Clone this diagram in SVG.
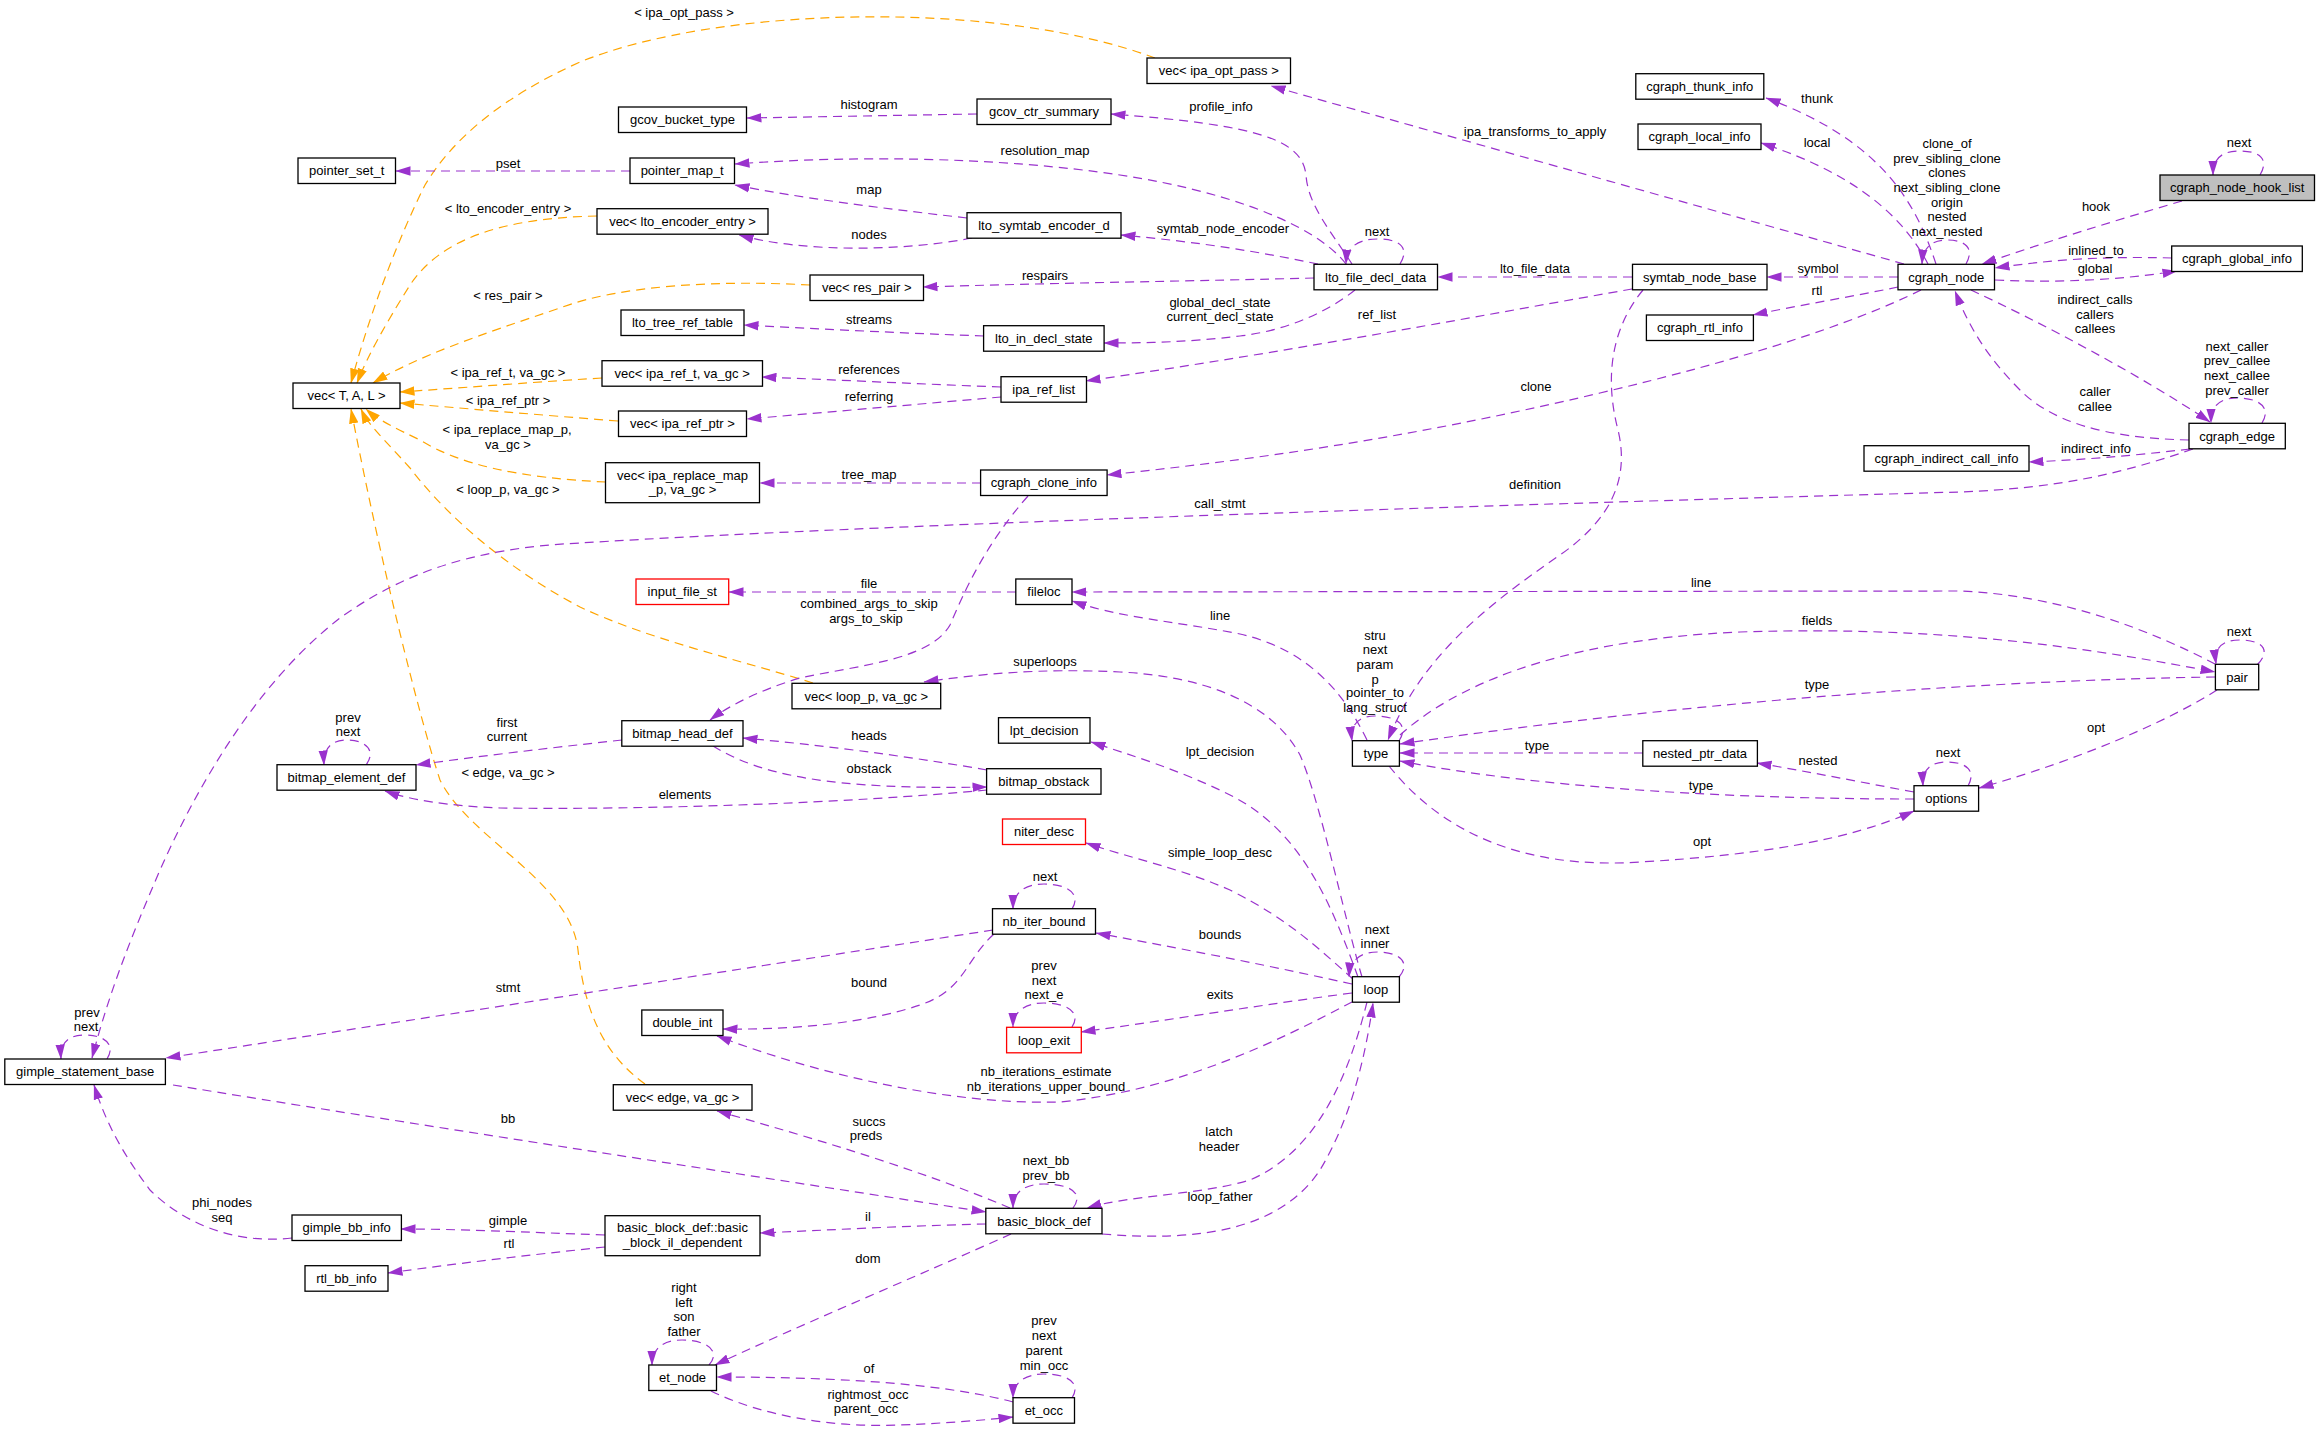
<svg xmlns="http://www.w3.org/2000/svg" width="2320" height="1430" viewBox="0 0 2320 1430">
<style>
.n rect{fill:#fff;stroke:#000;stroke-width:1.3}
.n.red rect{stroke:#ff0000}
.n.main rect{fill:#bfbfbf}
text{font-family:"Liberation Sans",Arial,Helvetica,sans-serif;font-size:13px;text-anchor:middle;fill:#000}
#edges path{fill:none;stroke:#9a32cd;stroke-width:1.2;stroke-dasharray:9,6;marker-end:url(#ap)}
#edges path.o{stroke:#ffa500;marker-end:url(#ao)}
</style>
<defs>
<marker id="ap" viewBox="0 0 15 10" refX="14.5" refY="5" markerWidth="15" markerHeight="10" markerUnits="userSpaceOnUse" orient="auto"><path d="M0,0.3 L15,5 L0,9.7 z" fill="#9a32cd"/></marker>
<marker id="ao" viewBox="0 0 15 10" refX="14.5" refY="5" markerWidth="15" markerHeight="10" markerUnits="userSpaceOnUse" orient="auto"><path d="M0,0.3 L15,5 L0,9.7 z" fill="#ffa500"/></marker>
</defs>
<rect width="2320" height="1430" fill="#fff"/>
<g id="edges">
<path class="o" d="M1155,58 C1000,0 720,5 580,62 C500,98 452,140 425,185 C395,245 368,320 351,383"/>
<path class="o" d="M597,216 C500,218 440,240 410,285 C385,325 368,355 357,383"/>
<path class="o" d="M810,285 C720,280 620,285 560,308 C480,335 420,355 373,383"/>
<path class="o" d="M602,378 C520,383 460,388 400,392"/>
<path class="o" d="M618,421 C540,415 460,408 400,403"/>
<path class="o" d="M606,482 C520,478 460,465 420,440 C395,428 378,420 366,409"/>
<path class="o" d="M813,683 C740,660 650,640 580,607 C510,570 450,520 410,468 C385,440 368,425 361,409"/>
<path class="o" d="M645,1084 C605,1055 585,1015 578,950 C570,880 470,840 440,780 C420,720 380,560 351,409"/>
<path d="M630,171 L396,171"/>
<path d="M977,114 L747,118"/>
<path d="M1352,264 C1330,230 1308,205 1306,175 C1302,140 1260,125 1111,114"/>
<path d="M1346,264 C1320,230 1250,200 1160,182 C1060,162 900,152 735,164"/>
<path d="M1318,264 C1260,252 1200,242 1121,235"/>
<path d="M1314,278 C1200,281 1050,283 923,287"/>
<path d="M1355,290 C1330,310 1290,330 1240,336 C1190,342 1150,343 1104,343"/>
<path d="M1400,264 C1410,248 1400,239 1378,239 C1360,239 1347,245 1346,264"/>
<path d="M1632,277 L1438,277"/>
<path d="M1632,289 C1500,312 1300,350 1086,381"/>
<path d="M1643,290 C1610,330 1605,380 1618,430 C1630,480 1610,520 1560,555 C1480,610 1420,660 1388,740"/>
<path d="M1898,277 L1767,277"/>
<path d="M1904,264 L1271,86"/>
<path d="M1936,264 C1915,200 1880,140 1766,98"/>
<path d="M1928,264 C1905,220 1860,175 1761,143"/>
<path d="M1966,264 C1975,248 1965,240 1947,240 C1932,240 1923,247 1922,264"/>
<path d="M2182,201 C2110,222 2040,244 1982,264"/>
<path d="M2260,175 C2270,158 2258,151 2240,151 C2222,151 2213,158 2213,175"/>
<path d="M2172,258 C2100,256 2050,260 1995,268"/>
<path d="M1995,280 C2060,283 2120,280 2177,271"/>
<path d="M1971,290 C2040,322 2140,375 2210,422"/>
<path d="M2189,440 C2100,438 2050,420 2020,390 C1990,360 1970,330 1955,291"/>
<path d="M2262,423 C2272,407 2258,398 2238,398 C2220,398 2211,405 2211,423"/>
<path d="M2190,449 C2130,456 2080,460 2029,462"/>
<path d="M2193,449 C2120,474 2060,488 1960,492 C1600,502 900,523 580,543 C470,548 400,575 340,618 C260,680 200,780 160,870 C130,940 110,990 92,1058"/>
<path d="M1921,290 C1850,325 1740,360 1600,393 C1400,440 1250,460 1107,475"/>
<path d="M1898,287 C1850,297 1800,305 1753,315"/>
<path d="M981,483 L760,483"/>
<path d="M1028,496 C985,545 965,590 950,625 C930,660 860,665 800,678 C760,690 730,705 710,720"/>
<path d="M1016,592 L729,592"/>
<path d="M2215,664 C2150,630 2060,595 1960,591 L1072,592"/>
<path d="M1367,740 C1345,695 1310,650 1240,634 C1180,622 1120,618 1072,601"/>
<path d="M1399,741 C1410,724 1395,716 1375,716 C1358,716 1350,725 1352,741"/>
<path d="M1400,735 C1450,690 1550,640 1740,632 C1950,625 2100,650 2215,672"/>
<path d="M2215,677 C2000,680 1700,700 1400,744"/>
<path d="M1643,753 L1400,753"/>
<path d="M1914,799 C1750,799 1550,790 1400,761"/>
<path d="M1389,766 C1440,830 1520,870 1640,862 C1760,855 1850,840 1914,811"/>
<path d="M1914,792 C1860,782 1810,772 1757,763"/>
<path d="M1968,786 C1977,770 1965,762 1947,762 C1930,762 1922,770 1923,786"/>
<path d="M2217,690 C2170,720 2080,760 1979,788"/>
<path d="M2257,665 C2272,650 2262,640 2240,640 C2222,640 2214,648 2216,664"/>
<path d="M1362,977 C1345,920 1320,800 1300,755 C1270,700 1200,676 1120,672 C1040,668 980,674 924,682"/>
<path d="M1358,977 C1330,900 1300,830 1230,795 C1180,770 1130,755 1091,742"/>
<path d="M1353,979 C1320,950 1290,920 1230,890 C1180,868 1130,858 1086,843"/>
<path d="M1352,984 C1280,968 1200,952 1096,933"/>
<path d="M1352,993 C1260,1005 1170,1020 1081,1032"/>
<path d="M1352,1002 C1280,1040 1180,1090 1060,1102 C950,1105 820,1075 717,1036"/>
<path d="M994,934 C965,960 965,990 920,1005 C870,1022 800,1030 723,1029"/>
<path d="M993,930 L166,1058"/>
<path d="M107,1059 C116,1045 105,1035 85,1035 C68,1035 60,1043 61,1059"/>
<path d="M292,1238 C230,1245 180,1220 150,1190 C120,1150 105,1120 94,1085"/>
<path d="M605,1235 C520,1232 460,1229 401,1229"/>
<path d="M605,1247 C530,1255 460,1263 388,1273"/>
<path d="M986,1224 C900,1226 830,1230 760,1233"/>
<path d="M173,1085 C400,1122 700,1168 986,1212"/>
<path d="M1010,1208 C920,1170 820,1140 717,1111"/>
<path d="M1073,1208 C1085,1192 1068,1184 1044,1184 C1025,1184 1013,1192 1013,1208"/>
<path d="M1367,1002 C1350,1070 1320,1150 1250,1180 C1200,1195 1130,1195 1087,1208"/>
<path d="M1102,1234 C1200,1242 1280,1230 1320,1170 C1350,1120 1365,1060 1373,1003"/>
<path d="M1399,977 C1412,962 1398,952 1378,952 C1360,952 1350,960 1349,977"/>
<path d="M622,740 C550,748 480,756 416,765"/>
<path d="M713,746 C760,775 830,790 987,787"/>
<path d="M987,770 C900,755 820,745 743,738"/>
<path d="M987,790 C850,803 650,810 500,808 C450,806 410,800 385,791"/>
<path d="M366,765 C377,750 365,740 347,740 C332,740 323,748 324,765"/>
<path d="M1072,909 C1082,893 1066,884 1044,884 C1026,884 1013,892 1013,909"/>
<path d="M1072,1027 C1082,1012 1066,1003 1044,1003 C1026,1003 1013,1011 1013,1027"/>
<path d="M1011,1234 C920,1275 800,1325 715,1365"/>
<path d="M709,1365 C722,1350 705,1340 682,1340 C664,1340 652,1348 652,1365"/>
<path d="M1013,1402 C950,1385 850,1377 717,1377"/>
<path d="M711,1391 C760,1415 830,1428 900,1425 C950,1423 985,1420 1013,1417"/>
<path d="M1072,1398 C1082,1382 1066,1374 1044,1374 C1026,1374 1013,1382 1013,1398"/>
<path d="M967,218 C880,208 800,198 735,185"/>
<path d="M972,238 C900,252 800,252 739,235"/>
<path d="M984,336 C900,333 820,329 744,325"/>
<path d="M1001,387 C920,384 840,380 762,377"/>
<path d="M1001,397 C920,404 830,412 747,419"/>
<g id="edge-labels">
<text x="684" y="16.5">&lt; ipa_opt_pass &gt;</text>
<text x="508" y="167.5">pset</text>
<text x="508" y="212.5">&lt; lto_encoder_entry &gt;</text>
<text x="508" y="299.5">&lt; res_pair &gt;</text>
<text x="508" y="376.5">&lt; ipa_ref_t, va_gc &gt;</text>
<text x="508" y="404.5">&lt; ipa_ref_ptr &gt;</text>
<text x="507" y="433.5">&lt; ipa_replace_map_p,</text>
<text x="508" y="448.5">va_gc &gt;</text>
<text x="508" y="493.5">&lt; loop_p, va_gc &gt;</text>
<text x="508" y="776.5">&lt; edge, va_gc &gt;</text>
<text x="869" y="108.5">histogram</text>
<text x="1045" y="155">resolution_map</text>
<text x="869" y="193.5">map</text>
<text x="869" y="239">nodes</text>
<text x="1045" y="279.5">respairs</text>
<text x="869" y="323.5">streams</text>
<text x="869" y="373.5">references</text>
<text x="869" y="400.5">referring</text>
<text x="869" y="478.5">tree_map</text>
<text x="1221" y="111">profile_info</text>
<text x="1535" y="136">ipa_transforms_to_apply</text>
<text x="1223" y="233">symtab_node_encoder</text>
<text x="1377" y="236">next</text>
<text x="1535" y="273">lto_file_data</text>
<text x="1220" y="307">global_decl_state</text>
<text x="1220" y="321">current_decl_state</text>
<text x="1377" y="319">ref_list</text>
<text x="1536" y="391">clone</text>
<text x="1535" y="489">definition</text>
<text x="1817" y="103">thunk</text>
<text x="1817" y="147">local</text>
<text x="1947" y="148">clone_of</text>
<text x="1947" y="163">prev_sibling_clone</text>
<text x="1947" y="177">clones</text>
<text x="1947" y="192">next_sibling_clone</text>
<text x="1947" y="207">origin</text>
<text x="1947" y="221">nested</text>
<text x="1947" y="235.5">next_nested</text>
<text x="2239" y="147">next</text>
<text x="2096" y="211">hook</text>
<text x="1818" y="273">symbol</text>
<text x="1817" y="294.5">rtl</text>
<text x="2096" y="255">inlined_to</text>
<text x="2095" y="273">global</text>
<text x="2095" y="303.5">indirect_calls</text>
<text x="2095" y="319">callers</text>
<text x="2095" y="333">callees</text>
<text x="2237" y="351">next_caller</text>
<text x="2237" y="365">prev_callee</text>
<text x="2237" y="380">next_callee</text>
<text x="2237" y="395">prev_caller</text>
<text x="2095" y="396">caller</text>
<text x="2095" y="411">callee</text>
<text x="2096" y="452.5">indirect_info</text>
<text x="1220" y="507.5">call_stmt</text>
<text x="869" y="587.5">file</text>
<text x="869" y="608">combined_args_to_skip</text>
<text x="866" y="623">args_to_skip</text>
<text x="1701" y="587">line</text>
<text x="1220" y="620">line</text>
<text x="1817" y="625">fields</text>
<text x="1375" y="639.5">stru</text>
<text x="1375" y="653.5">next</text>
<text x="1375" y="668.5">param</text>
<text x="1375" y="683.5">p</text>
<text x="1375" y="697">pointer_to</text>
<text x="1375" y="712">lang_struct</text>
<text x="1045" y="665.5">superloops</text>
<text x="2239" y="636">next</text>
<text x="1817" y="689">type</text>
<text x="507" y="726.5">first</text>
<text x="507" y="741">current</text>
<text x="348" y="721.5">prev</text>
<text x="348" y="736">next</text>
<text x="869" y="740">heads</text>
<text x="1537" y="749.5">type</text>
<text x="1220" y="755.5">lpt_decision</text>
<text x="2096" y="732">opt</text>
<text x="1948" y="757">next</text>
<text x="1818" y="765">nested</text>
<text x="869" y="773">obstack</text>
<text x="1701" y="789.5">type</text>
<text x="685" y="799">elements</text>
<text x="1702" y="845.5">opt</text>
<text x="1220" y="857">simple_loop_desc</text>
<text x="1045" y="880.5">next</text>
<text x="1377" y="933.5">next</text>
<text x="1375" y="948">inner</text>
<text x="1220" y="938.5">bounds</text>
<text x="1044" y="969.5">prev</text>
<text x="1044" y="984.5">next</text>
<text x="1044" y="999">next_e</text>
<text x="869" y="986.5">bound</text>
<text x="508" y="992">stmt</text>
<text x="1220" y="998.5">exits</text>
<text x="87" y="1016.5">prev</text>
<text x="86" y="1031">next</text>
<text x="1046" y="1076">nb_iterations_estimate</text>
<text x="1046" y="1091">nb_iterations_upper_bound</text>
<text x="508" y="1123">bb</text>
<text x="869" y="1125.5">succs</text>
<text x="866" y="1140">preds</text>
<text x="1219" y="1136">latch</text>
<text x="1219" y="1151">header</text>
<text x="1046" y="1165">next_bb</text>
<text x="1046" y="1180">prev_bb</text>
<text x="1220" y="1201">loop_father</text>
<text x="222" y="1207">phi_nodes</text>
<text x="222" y="1221.5">seq</text>
<text x="868" y="1220.5">il</text>
<text x="508" y="1225">gimple</text>
<text x="509" y="1247.5">rtl</text>
<text x="868" y="1263">dom</text>
<text x="684" y="1292">right</text>
<text x="684" y="1306.5">left</text>
<text x="684" y="1321">son</text>
<text x="684" y="1335.5">father</text>
<text x="1044" y="1325">prev</text>
<text x="1044" y="1340">next</text>
<text x="1044" y="1355">parent</text>
<text x="1044" y="1369.5">min_occ</text>
<text x="869" y="1373">of</text>
<text x="868" y="1398.5">rightmost_occ</text>
<text x="866" y="1413">parent_occ</text>
</g>
</g>
<g id="n_vecTAL" class="n"><rect x="293" y="383" width="107" height="25.5"/><text x="346.5" y="400.3">vec&lt; T, A, L &gt;</text></g>
<g id="n_pointer_set_t" class="n"><rect x="298" y="158" width="97.5" height="25.5"/><text x="346.7" y="175.2">pointer_set_t</text></g>
<g id="n_vec_ipa_opt_pass" class="n"><rect x="1147" y="58" width="143.5" height="25.5"/><text x="1218.8" y="75.2">vec&lt; ipa_opt_pass &gt;</text></g>
<g id="n_gcov_bucket_type" class="n"><rect x="618.5" y="107" width="128" height="25.5"/><text x="682.5" y="124.2">gcov_bucket_type</text></g>
<g id="n_gcov_ctr_summary" class="n"><rect x="977" y="99" width="134" height="25.5"/><text x="1044" y="116.2">gcov_ctr_summary</text></g>
<g id="n_pointer_map_t" class="n"><rect x="630" y="158" width="104.5" height="25.5"/><text x="682.2" y="175.2">pointer_map_t</text></g>
<g id="n_vec_lto_encoder_entry" class="n"><rect x="597" y="208.7" width="171" height="25.5"/><text x="682.5" y="226">vec&lt; lto_encoder_entry &gt;</text></g>
<g id="n_lto_symtab_encoder_d" class="n"><rect x="967" y="212.7" width="154" height="25.5"/><text x="1044" y="230">lto_symtab_encoder_d</text></g>
<g id="n_vec_res_pair" class="n"><rect x="810" y="275" width="113.5" height="25.5"/><text x="866.7" y="292.2">vec&lt; res_pair &gt;</text></g>
<g id="n_lto_tree_ref_table" class="n"><rect x="621" y="310" width="123" height="25.5"/><text x="682.5" y="327.2">lto_tree_ref_table</text></g>
<g id="n_lto_in_decl_state" class="n"><rect x="983.6" y="325.7" width="120.5" height="25.5"/><text x="1043.8" y="343">lto_in_decl_state</text></g>
<g id="n_vec_ipa_ref_t" class="n"><rect x="602" y="360.7" width="160.5" height="25.5"/><text x="682.2" y="378">vec&lt; ipa_ref_t, va_gc &gt;</text></g>
<g id="n_ipa_ref_list" class="n"><rect x="1001" y="376.7" width="85.5" height="25.5"/><text x="1043.7" y="394">ipa_ref_list</text></g>
<g id="n_vec_ipa_ref_ptr" class="n"><rect x="618.5" y="411" width="128" height="25.5"/><text x="682.5" y="428.2">vec&lt; ipa_ref_ptr &gt;</text></g>
<g id="n_vec_ipa_replace_map" class="n"><rect x="605.5" y="462.7" width="154" height="40"/><text x="682.5" y="479.5">vec&lt; ipa_replace_map</text><text x="682.5" y="493.5">_p, va_gc &gt;</text></g>
<g id="n_cgraph_clone_info" class="n"><rect x="980.6" y="470" width="126.5" height="25.5"/><text x="1043.8" y="487.2">cgraph_clone_info</text></g>
<g id="n_lto_file_decl_data" class="n"><rect x="1314" y="264.3" width="123.5" height="25.5"/><text x="1375.7" y="281.5">lto_file_decl_data</text></g>
<g id="n_symtab_node_base" class="n"><rect x="1632.5" y="264.3" width="134.5" height="25.5"/><text x="1699.7" y="281.5">symtab_node_base</text></g>
<g id="n_cgraph_thunk_info" class="n"><rect x="1635.8" y="73.7" width="128" height="25.5"/><text x="1699.8" y="91">cgraph_thunk_info</text></g>
<g id="n_cgraph_local_info" class="n"><rect x="1638" y="124" width="123" height="25.5"/><text x="1699.5" y="141.2">cgraph_local_info</text></g>
<g id="n_cgraph_rtl_info" class="n"><rect x="1646.4" y="315" width="107" height="25.5"/><text x="1699.9" y="332.2">cgraph_rtl_info</text></g>
<g id="n_cgraph_node" class="n"><rect x="1898" y="264.3" width="96.5" height="25.5"/><text x="1946.2" y="281.5">cgraph_node</text></g>
<g id="n_cgraph_node_hook_list" class="n main"><rect x="2160" y="175" width="154.5" height="25.5"/><text x="2237.2" y="192.2">cgraph_node_hook_list</text></g>
<g id="n_cgraph_global_info" class="n"><rect x="2171.7" y="246" width="130.6" height="25.5"/><text x="2237" y="263.2">cgraph_global_info</text></g>
<g id="n_cgraph_edge" class="n"><rect x="2189" y="423.3" width="96.3" height="25.5"/><text x="2237.1" y="440.5">cgraph_edge</text></g>
<g id="n_cgraph_indirect_call_info" class="n"><rect x="1864" y="445.7" width="165" height="25.5"/><text x="1946.5" y="463">cgraph_indirect_call_info</text></g>
<g id="n_input_file_st" class="n red"><rect x="636" y="579" width="92.7" height="25.5"/><text x="682.3" y="596.2">input_file_st</text></g>
<g id="n_fileloc" class="n"><rect x="1015.8" y="579" width="56.2" height="25.5"/><text x="1043.9" y="596.2">fileloc</text></g>
<g id="n_vec_loop_p" class="n"><rect x="792" y="683.3" width="148.7" height="25.5"/><text x="866.3" y="700.5">vec&lt; loop_p, va_gc &gt;</text></g>
<g id="n_bitmap_head_def" class="n"><rect x="621.8" y="720.7" width="121.2" height="25.5"/><text x="682.4" y="738">bitmap_head_def</text></g>
<g id="n_lpt_decision" class="n"><rect x="998.5" y="717.7" width="91.5" height="25.5"/><text x="1044.2" y="735">lpt_decision</text></g>
<g id="n_bitmap_obstack" class="n"><rect x="986.6" y="768.7" width="114.4" height="25.5"/><text x="1043.8" y="786">bitmap_obstack</text></g>
<g id="n_bitmap_element_def" class="n"><rect x="277" y="764.7" width="139" height="25.5"/><text x="346.5" y="782">bitmap_element_def</text></g>
<g id="n_niter_desc" class="n red"><rect x="1002.5" y="819" width="83" height="25.5"/><text x="1044" y="836.2">niter_desc</text></g>
<g id="n_nb_iter_bound" class="n"><rect x="992.5" y="908.7" width="103" height="25.5"/><text x="1044" y="926">nb_iter_bound</text></g>
<g id="n_type" class="n"><rect x="1352.4" y="740.7" width="47" height="25.5"/><text x="1375.9" y="758">type</text></g>
<g id="n_nested_ptr_data" class="n"><rect x="1642.8" y="740.7" width="114.6" height="25.5"/><text x="1700" y="758">nested_ptr_data</text></g>
<g id="n_pair" class="n"><rect x="2215.4" y="664.3" width="43.3" height="25.5"/><text x="2237" y="681.5">pair</text></g>
<g id="n_options" class="n"><rect x="1914" y="785.7" width="64.6" height="25.5"/><text x="1946.3" y="803">options</text></g>
<g id="n_loop" class="n"><rect x="1352.4" y="976.7" width="47" height="25.5"/><text x="1375.9" y="994">loop</text></g>
<g id="n_gimple_statement_base" class="n"><rect x="4.8" y="1059" width="160.6" height="25.5"/><text x="85.1" y="1076.2">gimple_statement_base</text></g>
<g id="n_double_int" class="n"><rect x="641.8" y="1010" width="81.2" height="25.5"/><text x="682.4" y="1027.2">double_int</text></g>
<g id="n_loop_exit" class="n red"><rect x="1006.6" y="1027.3" width="74.7" height="25.5"/><text x="1044" y="1044.5">loop_exit</text></g>
<g id="n_vec_edge" class="n"><rect x="613.3" y="1084.7" width="138.7" height="25.5"/><text x="682.6" y="1102">vec&lt; edge, va_gc &gt;</text></g>
<g id="n_basic_block_def" class="n"><rect x="985.8" y="1208.3" width="116.2" height="25.5"/><text x="1043.9" y="1225.5">basic_block_def</text></g>
<g id="n_bb_il_dependent" class="n"><rect x="605" y="1215.7" width="155" height="40"/><text x="682.5" y="1232.2">basic_block_def::basic</text><text x="682.5" y="1246.8">_block_il_dependent</text></g>
<g id="n_gimple_bb_info" class="n"><rect x="292" y="1215" width="109.4" height="25.5"/><text x="346.7" y="1232.2">gimple_bb_info</text></g>
<g id="n_rtl_bb_info" class="n"><rect x="305" y="1265.7" width="83" height="25.5"/><text x="346.5" y="1283">rtl_bb_info</text></g>
<g id="n_et_node" class="n"><rect x="648.8" y="1365" width="67.7" height="25.5"/><text x="682.6" y="1382.2">et_node</text></g>
<g id="n_et_occ" class="n"><rect x="1013" y="1397.7" width="61.5" height="25.5"/><text x="1043.8" y="1415">et_occ</text></g>
</svg>
